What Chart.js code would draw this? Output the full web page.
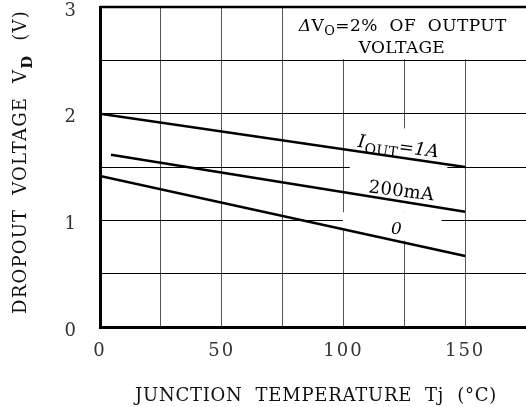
<!DOCTYPE html>
<html>
<head>
<meta charset="utf-8">
<script src="https://cdn.jsdelivr.net/npm/chart.js@4"></script>
<style>
  html, body { margin: 0; padding: 0; background: #fff; }
  #wrap { width: 526px; height: 407px; }
</style>
</head>
<body>
<div id="wrap"><canvas id="dropoutChart"></canvas></div>
<script>
// values (junction temperature in degC, dropout in V)
const tempsFull = [0, 150];
const temps200mA = [4.5, 150];
const vd1A = [2.0, 1.5];
const vd200mA = [1.615, 1.08];
const vd0mA = [1.415, 0.665];
const xLabelTicks = [0, 50, 100, 150];
const yLabelTicks = [0, 1, 2, 3];

const FAM = '"DejaVu Serif", serif';
const pts = (xs, ys) => xs.map((x, i) => ({ x, y: ys[i] }));

// draws a run of text pieces (some subscripted) centred on x,y
function drawParts(ctx, parts, x, y, size, opts = {}) {
  const subScale = opts.subScale || 0.75;
  const fontOf = p => `${p.italic ? 'italic ' : ''}${p.bold ? 'bold ' : ''}${p.sub ? Math.round(size * subScale) : size}px ${FAM}`;
  ctx.save();
  ctx.letterSpacing = '0px';
  let widths = parts.map(p => { ctx.font = fontOf(p); return ctx.measureText(p.t).width; });
  let total = widths.reduce((a, b) => a + b, 0);
  let spacing = 0;
  if (opts.width) {
    const n = parts.reduce((a, p) => a + p.t.length, 0);
    spacing = (opts.width - total) / n;
    widths = widths.map((w, i) => w + spacing * parts[i].t.length);
    total = opts.width;
  }
  ctx.letterSpacing = spacing + 'px';
  ctx.translate(x, y);
  ctx.rotate(opts.angle || 0);
  ctx.textAlign = 'left';
  ctx.textBaseline = 'alphabetic';
  ctx.fillStyle = opts.color || '#000';
  let cx = -total / 2;
  parts.forEach((p, i) => {
    ctx.font = fontOf(p);
    ctx.fillText(p.t, cx, size * 0.36 + (p.sub ? size * 0.28 : 0));
    cx += widths[i];
  });
  ctx.restore();
}

const annotations = {
  id: 'annotations',
  beforeDatasetsDraw(chart) {
    const { ctx, scales: { x, y }, chartArea } = chart;
    ctx.save();
    ctx.fillStyle = '#fff';
    // blank areas behind the labels
    const box = (x0, x1, y0, y1) => {
      const l = x.getPixelForValue(x0), r = Math.min(x.getPixelForValue(x1), chartArea.right);
      const t = y.getPixelForValue(y1), b = y.getPixelForValue(y0);
      ctx.fillRect(l, t, r - l, b - t);
    };
    box(75.6, 175, 2.51, 3);
    box(102.6, 142.7, 1.075, 1.862);
    box(99.8, 140.3, 0.905, 1.075);
    box(117, 130, 0.81, 0.905);
    ctx.restore();
  },
  afterDatasetsDraw(chart) {
    const { ctx, scales: { x, y }, chartArea } = chart;
    const px = v => x.getPixelForValue(v), py = v => y.getPixelForValue(v);
    const slope = (xs, ys) => Math.atan2(py(ys[1]) - py(ys[0]), px(xs[1]) - px(xs[0]));

    // top frame line
    ctx.save();
    ctx.strokeStyle = '#000';
    ctx.lineWidth = 2.5;
    ctx.beginPath();
    ctx.moveTo(chartArea.left, chartArea.top);
    ctx.lineTo(chartArea.right, chartArea.top);
    ctx.stroke();
    ctx.restore();

    drawParts(ctx, [
      { t: 'Δ', italic: true }, { t: 'V' }, { t: 'O', sub: true },
      { t: '=2%  OF  OUTPUT' }
    ], px(124.4), py(2.835), 17, { width: 208 });
    drawParts(ctx, [{ t: 'VOLTAGE' }], px(124), py(2.63), 17, { width: 86 });

    drawParts(ctx, [{ t: 'I', italic: true }, { t: 'OUT', sub: true }, { t: '=1A', italic: true }],
      px(122.7), py(1.70), 18, { angle: slope(tempsFull, vd1A) * 0.9, width: 82, subScale: 0.8 });
    drawParts(ctx, [{ t: '200mA' }], px(123.9), py(1.285), 18, { angle: slope(temps200mA, vd200mA) * 0.8, width: 66 });
    drawParts(ctx, [{ t: '0', italic: true }], px(121.8), py(0.93), 17, {});
  },
  afterDraw(chart) {
    const { ctx } = chart;
    drawParts(ctx, [{ t: 'JUNCTION  TEMPERATURE  Tj  (°C)' }], 316, 395, 18, { width: 362, color: '#111' });
    ctx.save();
    ctx.translate(20, 162);
    ctx.rotate(-Math.PI / 2);
    drawParts(ctx, [{ t: 'DROPOUT  VOLTAGE  V' }, { t: 'D', sub: true, bold: true }, { t: '  (V)' }],
      0, 0, 18, { width: 304, color: '#111', subScale: 0.85 });
    ctx.restore();
  }
};

const tickSpacing = {
  id: 'tickSpacing',
  beforeDraw(chart) { chart.ctx.letterSpacing = '2px'; }
};

const lineStyle = { borderColor: '#000', borderWidth: 2.5, pointRadius: 0, tension: 0, fill: false };

new Chart(document.getElementById('dropoutChart'), {
  type: 'line',
  data: {
    datasets: [
      { label: 'IOUT=1A', data: pts(tempsFull, vd1A), ...lineStyle },
      { label: '200mA', data: pts(temps200mA, vd200mA), ...lineStyle },
      { label: '0', data: pts(tempsFull, vd0mA), ...lineStyle }
    ]
  },
  options: {
    responsive: true,
    maintainAspectRatio: false,
    animation: false,
    layout: { padding: { top: 7, left: 0, right: 0, bottom: 0 } },
    plugins: { legend: { display: false }, tooltip: { enabled: false } },
    scales: {
      x: {
        type: 'linear',
        min: 0,
        max: 175,
        ticks: {
          stepSize: 25,
          autoSkip: false,
          maxRotation: 0,
          padding: 14,
          color: '#333',
          font: { family: FAM, size: 18 },
          callback: v => xLabelTicks.includes(v) ? String(v) : ''
        },
        grid: { color: '#555', lineWidth: 1, drawTicks: false },
        border: { color: '#000', width: 3 },
        afterFit(scale) {
          scale.height = 80;
          scale.paddingLeft = 0;
          scale.paddingRight = 0;
        }
      },
      y: {
        min: 0,
        max: 3,
        ticks: {
          stepSize: 0.5,
          autoSkip: false,
          padding: 22,
          labelOffset: 4,
          color: '#333',
          font: { family: FAM, size: 18 },
          callback: v => yLabelTicks.includes(v) ? String(v) : ''
        },
        grid: { color: '#000', lineWidth: 1, drawTicks: false },
        border: { color: '#000', width: 3 },
        afterFit(scale) {
          scale.width = 100;
          scale.paddingTop = 0;
          scale.paddingBottom = 0;
        }
      }
    }
  },
  plugins: [tickSpacing, annotations]
});
</script>
</body>
</html>
